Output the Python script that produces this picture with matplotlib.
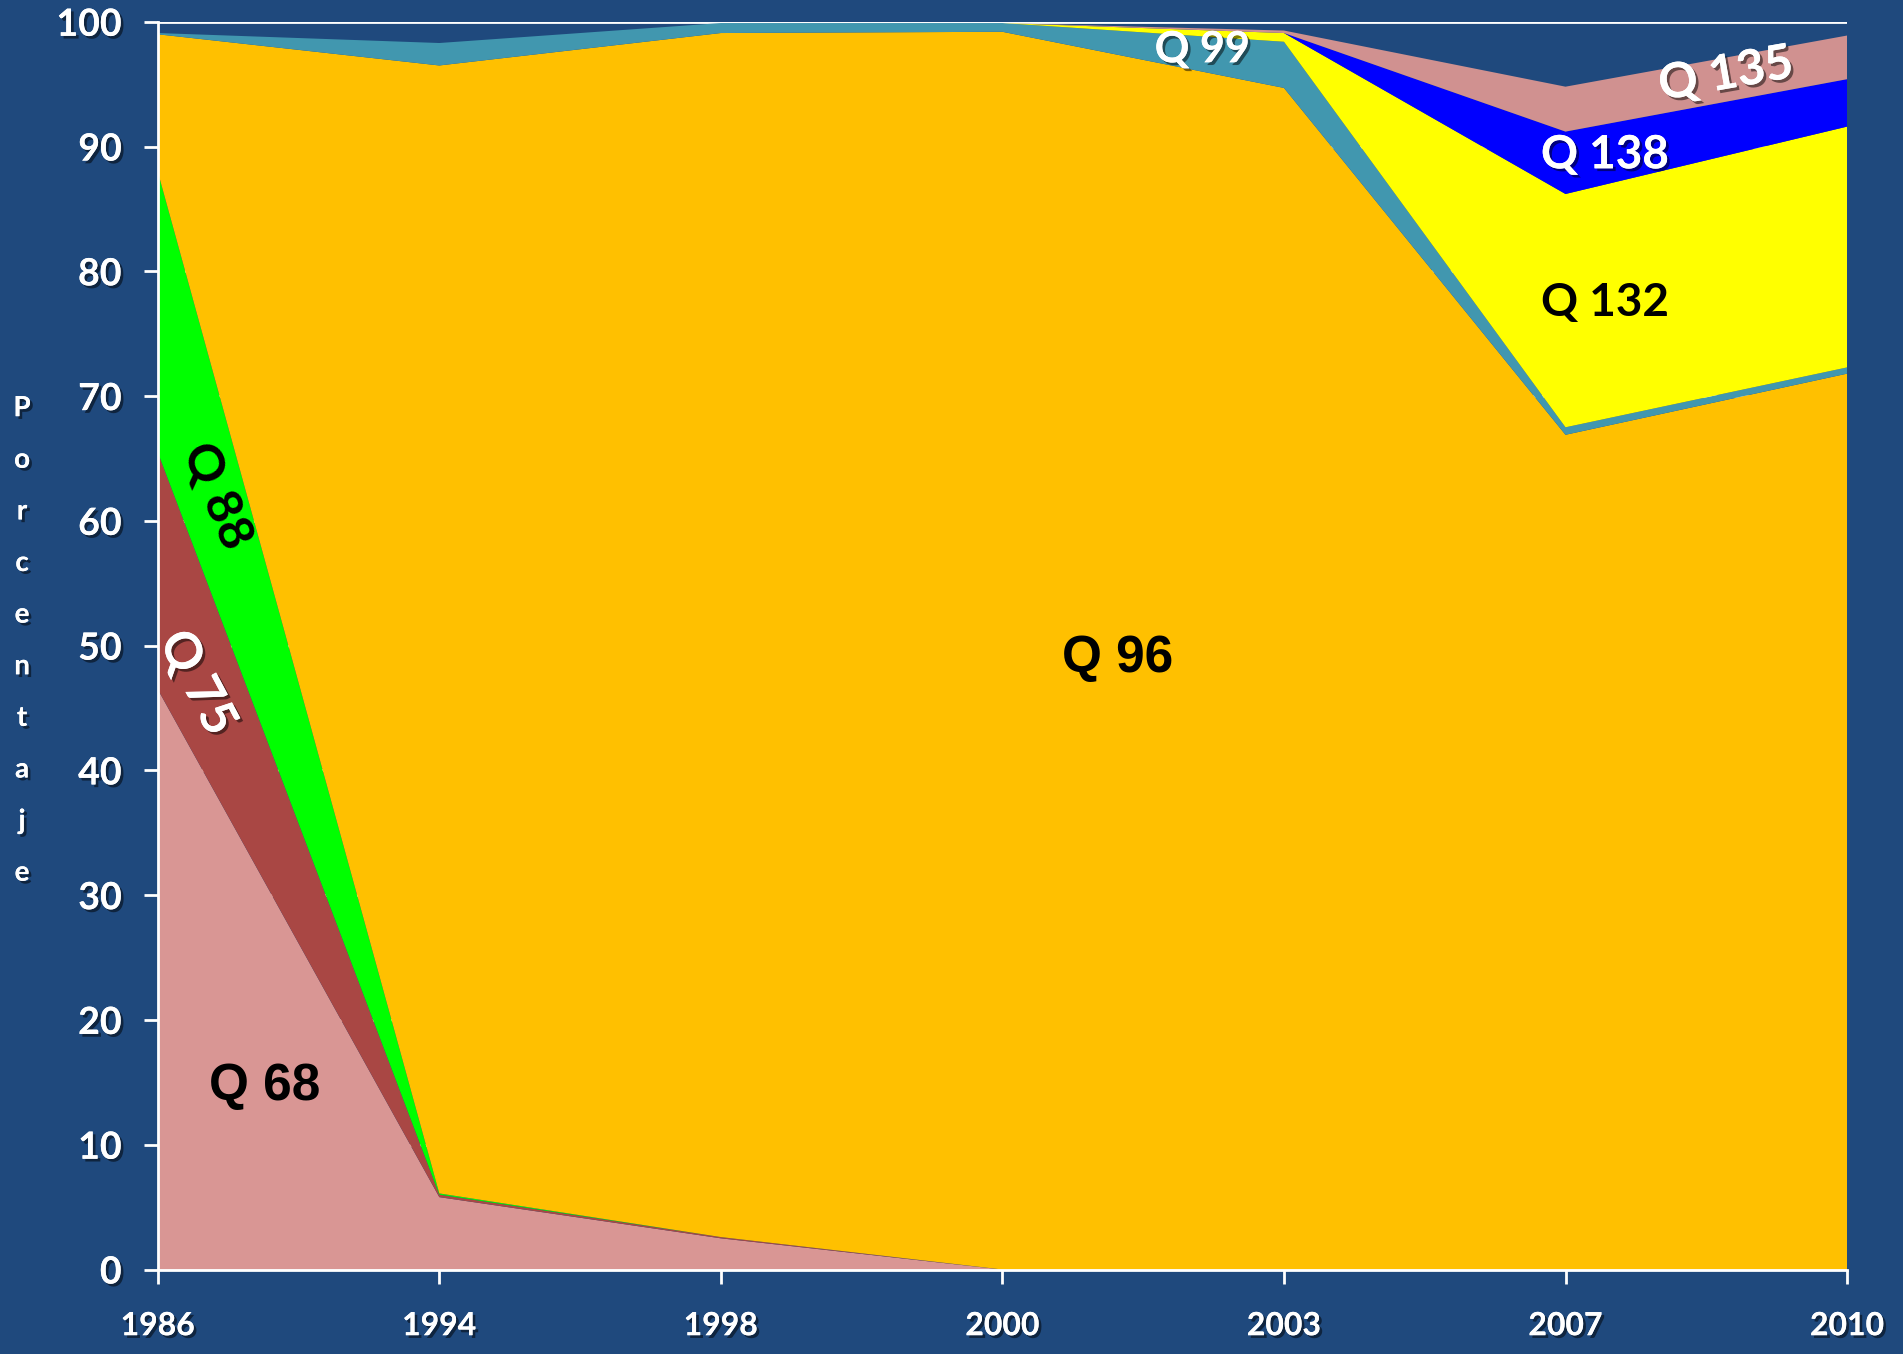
import numpy as np
import matplotlib.pyplot as plt
import matplotlib.patheffects as pe

# years (categorical axis, equally spaced)
years = ['1986', '1994', '1998', '2000', '2003', '2007', '2010']

# percentage of each layer, stacked bottom to top
q68 = [46.5, 5.8, 2.5, 0.0, 0.0, 0.0, 0.0]
q75 = [19.0, 0.2, 0.1, 0.0, 0.0, 0.0, 0.0]
q88 = [22.5, 0.1, 0.0, 0.0, 0.0, 0.0, 0.0]
q96 = [11.0, 90.4, 96.5, 99.2, 94.7, 66.9, 71.8]
q99 = [0.1, 1.8, 0.8, 0.7, 3.7, 0.6, 0.5]
q132 = [0.0, 0.0, 0.0, 0.0, 0.7, 18.7, 19.3]
q138 = [0.0, 0.0, 0.0, 0.0, 0.0, 5.0, 3.8]
q135 = [0.0, 0.0, 0.0, 0.0, 0.2, 3.6, 3.5]

colors = ['#D99694', '#A94744', '#00FF00', '#FFC000', '#4197AF',
          '#FFFF00', '#0000FF', '#D09190']

bg = '#1F497D'
plt.rcParams['font.family'] = ['Lato', 'DejaVu Sans']
plt.rcParams['font.weight'] = 'bold'

fig = plt.figure(figsize=(19.03, 13.54), dpi=100, facecolor=bg)
ax = fig.add_axes([0.0829, 0.0624, 0.8877, 0.9215])
ax.set_facecolor(bg)

x = np.arange(len(years))
ax.stackplot(x, q68, q75, q88, q96, q99, q132, q138, q135,
             colors=colors, linewidth=0, zorder=2)

ax.set_xlim(0, len(years) - 1)
ax.set_ylim(0, 100)
ax.set_xticks(x)
ax.set_xticklabels(years)
ax.set_yticks(range(0, 101, 10))

shadow = [pe.withSimplePatchShadow(offset=(2, -2), shadow_rgbFace='black', alpha=0.5), pe.Normal()]

ax.tick_params(axis='both', colors='white', width=2, length=10, direction='out')
ax.tick_params(axis='y', labelsize=27, pad=16)
ax.tick_params(axis='x', labelsize=23, pad=20)
for lab in ax.get_xticklabels() + ax.get_yticklabels():
    lab.set_color('white')
    lab.set_fontweight('bold')
    lab.set_path_effects(shadow)

for s in ['top', 'right']:
    ax.spines[s].set_visible(False)
for s in ['left', 'bottom']:
    ax.spines[s].set_color('white')
    ax.spines[s].set_linewidth(2)
    ax.spines[s].set_zorder(3)

ax.yaxis.grid(True, color='white', linewidth=2, zorder=1)
ax.set_axisbelow(True)

# vertical axis title, one letter per line
fig.text(0.0116, 0.527, '\n'.join('Porcentaje'), color='white', fontsize=20,
         fontweight='bold', ha='center', va='center', linespacing=2.22,
         path_effects=shadow)

# layer labels
def lab(xv, yv, s, c, size=36, rot=0, fam=None):
    eff = shadow if c == 'white' else None
    ax.text(xv, yv, s, color=c, fontsize=size, fontweight='bold',
            ha='center', va='center', rotation=rot, zorder=5,
            path_effects=eff, family=fam)

lab(0.38, 14.7, 'Q 68', 'black', size=37, fam=['Liberation Sans'])
lab(0.14, 47.0, 'Q 75', 'white', rot=-62)
lab(0.21, 62.0, 'Q 88', 'black', rot=-67)
lab(3.41, 49.0, 'Q 96', 'black', size=37, fam=['Liberation Sans'])
lab(3.71, 97.8, 'Q 99', 'white', size=31)
lab(5.14, 77.5, 'Q 132', 'black', size=33)
lab(5.14, 89.3, 'Q 138', 'white', size=33)
lab(5.57, 95.8, 'Q 135', 'white', size=35, rot=10)

fig.savefig('out.png', dpi=100, facecolor=bg)
